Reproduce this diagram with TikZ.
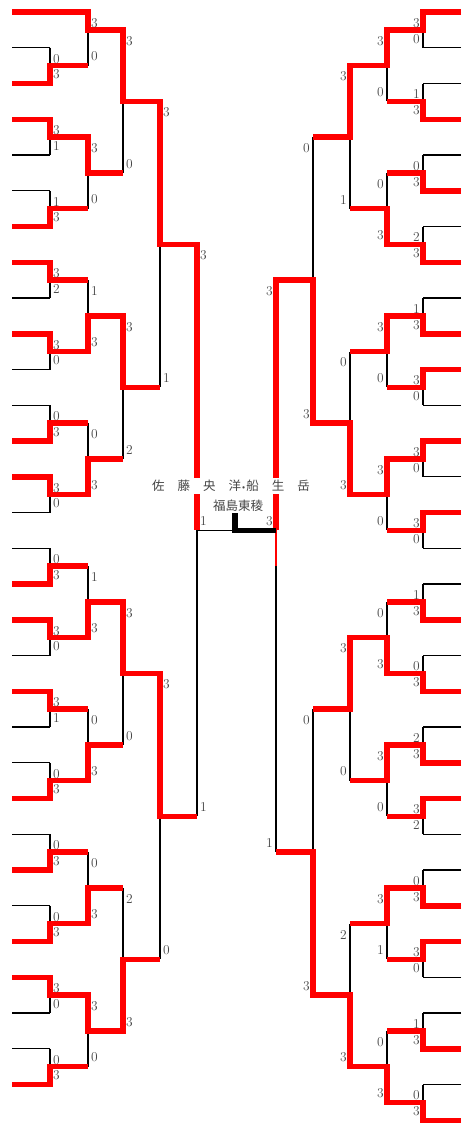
\documentclass[tikz,border=0pt]{standalone}
\usepackage{fontspec}
\newfontfamily\jpfont{Noto Sans CJK JP}
\usetikzlibrary{calc}
\definecolor{winRed}{RGB}{255,0,0}
\definecolor{scoreGray}{RGB}{70,70,70}
\newcommand{\ry}[1]{12+17.875*(#1)}

%% X/P/N/top/bottom/junction/winner/score top/score bottom
\newcommand{\leftmatches}{%
  50/12/88/2/4/3/4/0/3,      50/12/88/6/8/7/6/3/1,
  50/12/88/10/12/11/12/1/3,  50/12/88/14/16/15/14/3/2,
  50/12/88/18/20/19/18/3/0,  50/12/88/22/24/23/24/0/3,
  50/12/88/26/28/27/26/3/0,  50/12/88/30/32/31/32/0/3,
  50/12/88/34/36/35/34/3/0,  50/12/88/38/40/39/38/3/1,
  50/12/88/42/44/43/44/0/3,  50/12/88/46/48/47/48/0/3,
  50/12/88/50/52/51/52/0/3,  50/12/88/54/56/55/54/3/0,
  50/12/88/58/60/59/60/0/3,
  88/12/123/0/3/1/0/3/0,     88/50/123/7/11/9/7/3/0,
  88/50/123/15/19/17/19/1/3, 88/50/123/23/27/25/27/0/3,
  88/50/123/31/35/33/35/1/3, 88/50/123/39/43/41/43/0/3,
  88/50/123/47/51/49/51/0/3, 88/50/123/55/59/57/55/3/0,
  123/88/160/1/9/5/1/3/0,    123/88/160/17/25/21/17/3/2,
  123/88/160/33/41/37/33/3/0, 123/88/160/49/57/53/57/2/3,
  160/123/197/5/21/13/5/3/1, 160/123/197/37/53/45/37/3/0,
  197/160/197/13/45/29/13/3/1}
\newcommand{\rightmatches}{%
  423/461/387/0/2/1/0/3/0,     423/461/387/4/6/5/6/1/3,
  423/461/387/8/10/9/10/0/3,   423/461/387/12/14/13/14/2/3,
  423/461/387/16/18/17/18/1/3, 423/461/387/20/22/21/20/3/0,
  423/461/387/24/26/25/24/3/0, 423/461/387/28/30/29/28/3/0,
  423/461/387/32/34/33/34/1/3, 423/461/387/36/38/37/38/0/3,
  423/461/387/40/42/41/42/2/3, 423/461/387/44/46/45/44/3/2,
  423/461/387/48/50/49/50/0/3, 423/461/387/52/54/53/52/3/0,
  423/461/387/56/58/57/58/1/3, 423/461/387/60/62/61/62/0/3,
  387/423/350/1/5/3/1/3/0,     387/423/350/9/13/11/13/0/3,
  387/423/350/17/21/19/17/3/0, 387/423/350/25/29/27/25/3/0,
  387/423/350/33/37/35/37/0/3, 387/423/350/41/45/43/41/3/0,
  387/423/350/49/53/51/49/3/1, 387/423/350/57/61/59/61/0/3,
  350/387/313/3/11/7/3/3/1,    350/387/313/19/27/23/27/0/3,
  350/387/313/35/43/39/35/3/0, 350/387/313/51/59/55/59/2/3,
  313/350/276/7/23/15/23/0/3,  313/350/276/39/55/47/55/0/3}

\begin{document}
\begin{tikzpicture}[
  x=1pt, y=-1pt,
  lose/.style={black, line width=1.3pt},
  win/.style={winRed, line width=5.5pt},
  champ/.style={black, line width=5.5pt},
  sc/.style={font=\fontsize{13.5}{13.5}\selectfont, text=scoreGray, inner sep=0pt},
  jpname/.style={font=\jpfont\fontsize{12.5}{13}\selectfont, text=scoreGray,
    inner xsep=1pt, inner ysep=2.5pt},
]
\useasboundingbox (0,0) rectangle (461,1124);

%% Entry lines
\foreach \r in {0,2,...,60}{
  \draw[lose] (12,{\ry{\r}}) -- (50,{\ry{\r}});
}
\foreach \r in {0,2,...,62}{
  \draw[lose] (461,{\ry{\r}}) -- (423,{\ry{\r}});
}

%% Match verticals
\foreach \X/\P/\N/\a/\b/\m/\w/\sa/\sb in \leftmatches{
  \draw[lose] (\X,{\ry{\a}}) -- (\X,{\ry{\b}});
}
\foreach \X/\P/\N/\a/\b/\m/\w/\sa/\sb in \rightmatches{
  \draw[lose] (\X,{\ry{\a}}) -- (\X,{\ry{\b}});
}
\draw[lose] (276,{\ry{15}}) -- (276,{\ry{47}});
\coordinate (finL) at (197,{\ry{29}});
\coordinate (finM) at (235,{\ry{29}});
\coordinate (finR) at (276,{\ry{29}});
\draw[lose] (finL) -- (finM);

%% Winner paths
\foreach \X/\P/\N/\a/\b/\m/\w/\sa/\sb in \leftmatches{
  \draw[win] (\P,{\ry{\w}}) -- (\X,{\ry{\w}}) -- (\X,{\ry{\m}}) -- (\N,{\ry{\m}});
}
\foreach \X/\P/\N/\a/\b/\m/\w/\sa/\sb in \rightmatches{
  \draw[win] (\P,{\ry{\w}}) -- (\X,{\ry{\w}}) -- (\X,{\ry{\m}}) -- (\N,{\ry{\m}});
}
\draw[win] (313,{\ry{15}}) -- (276,{\ry{15}}) -- (finR);
\draw[winRed, line width=1.5pt] (finR) -- (276,{\ry{31}});

%% Final
\draw[champ] (finR) -- (finM) -- (235,513);

%% Scores
\foreach \X/\P/\N/\a/\b/\m/\w/\sa/\sb in \leftmatches{
  \node[sc, anchor=west] (sl-\X-\a) at ({\X+3},{\ry{\a}+11}) {\sa};
  \node[sc, anchor=west] (sl-\X-\b) at ({\X+3},{\ry{\b}-9}) {\sb};
}
\foreach \X/\P/\N/\a/\b/\m/\w/\sa/\sb in \rightmatches{
  \node[sc, anchor=east] (sr-\X-\a) at ({\X-3},{\ry{\a}+11}) {\sa};
  \node[sc, anchor=east] (sr-\X-\b) at ({\X-3},{\ry{\b}-9}) {\sb};
}
\node[sc, anchor=east] (sr-276-15) at (273,{\ry{15}+11}) {3};
\node[sc, anchor=east] (sr-276-47) at (273,{\ry{47}-9}) {1};
\node[sc, anchor=west] (fin-l) at (200,{\ry{29}-9}) {1};
\node[sc, anchor=east] (fin-r) at (273,{\ry{29}-9}) {3};

%% Champion names
\node[jpname, fill=white] (players) at (231,486)
  {佐\hspace{13pt}藤\hspace{13pt}央\hspace{13pt}洋\hspace{1pt}{\fontsize{9}{9}\selectfont •}\hspace{1pt}船\hspace{13pt}生\hspace{13pt}岳};
\node[jpname, inner sep=0pt] (school) at (238,506) {福島東稜};
\end{tikzpicture}
\end{document}
